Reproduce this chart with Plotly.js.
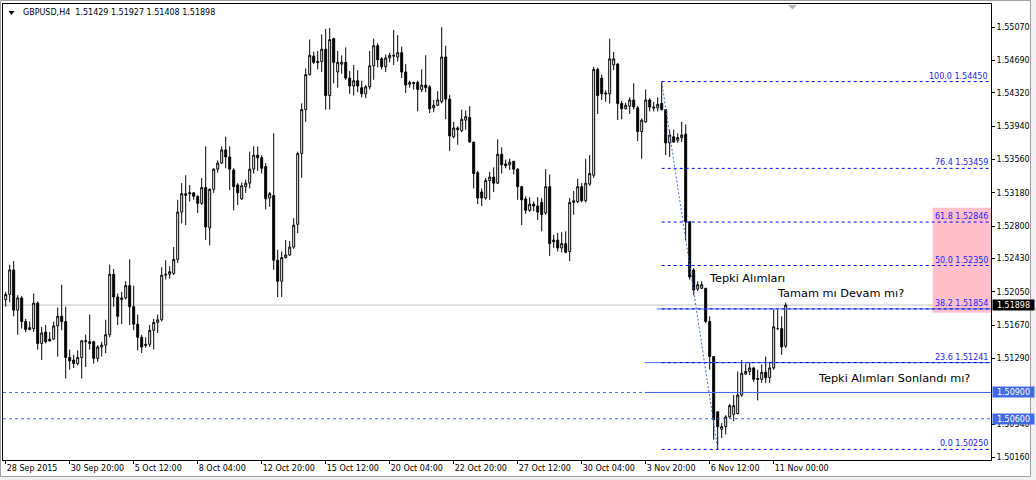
<!DOCTYPE html>
<html>
<head>
<meta charset="utf-8">
<script src="https://cdn.plot.ly/plotly-3.0.1.min.js"></script>
<style>
  html, body { margin: 0; padding: 0; background: #ffffff; }
  #chart { width: 1036px; height: 480px; }
</style>
</head>
<body>
<div id="chart"></div>
<script>
// ---------------- DATA ----------------
const symbolTitle = "GBPUSD,H4  1.51429 1.51927 1.51408 1.51898";

const openP = [
1.5196,1.5202,1.5230,1.5184,1.5198,1.5171,1.5162,1.5163,1.5192,1.5146,
1.5159,1.5151,1.5151,1.5166,1.5177,1.5171,1.5130,1.5127,1.5123,1.5130,
1.5148,1.5148,1.5148,1.5129,1.5142,1.5144,1.5156,1.5225,1.5199,1.5196,
1.5198,1.5212,1.5188,1.5168,1.5153,1.5145,1.5145,1.5161,1.5170,1.5173,
1.5224,1.5225,1.5226,1.5242,1.5296,1.5315,1.5317,1.5318,1.5314,1.5306,
1.5324,1.5278,1.5322,1.5345,1.5352,1.5367,1.5359,1.5344,1.5327,1.5311,
1.5325,1.5329,1.5345,1.5361,1.5358,1.5348,1.5312,1.5315,1.5241,1.5217,
1.5244,1.5247,1.5256,1.5282,1.5363,1.5413,1.5453,1.5474,1.5468,1.5468,
1.5482,1.5429,1.5494,1.5456,1.5465,1.5467,1.5449,1.5440,1.5446,1.5438,
1.5431,1.5439,1.5463,1.5486,1.5471,1.5462,1.5472,1.5474,1.5473,1.5478,
1.5456,1.5442,1.5444,1.5444,1.5436,1.5441,1.5439,1.5415,1.5418,1.5422,
1.5473,1.5425,1.5382,1.5390,1.5389,1.5401,1.5404,1.5376,1.5341,1.5319,
1.5312,1.5332,1.5336,1.5329,1.5362,1.5351,1.5350,1.5354,1.5345,1.5325,
1.5311,1.5298,1.5305,1.5303,1.5307,1.5295,1.5325,1.5264,1.5264,1.5255,
1.5260,1.5251,1.5307,1.5308,1.5325,1.5309,1.5328,1.5338,1.5459,1.5449,
1.5432,1.5431,1.5464,1.5465,1.5420,1.5414,1.5417,1.5424,1.5415,1.5388,
1.5399,1.5424,1.5416,1.5415,1.5420,1.5413,1.5375,1.5382,1.5378,1.5381,
1.5385,1.5285,1.5230,1.5208,1.5209,1.5209,1.5171,1.5131,1.5068,1.5048,
1.5051,1.5062,1.5065,1.5066,1.5087,1.5111,1.5114,1.5118,1.5106,1.5105,
1.5113,1.5107,1.5118,1.5163,1.5163,1.51429
];
const highP = [
1.5205,1.5236,1.5240,1.5201,1.5200,1.5174,1.5171,1.5203,1.5194,1.5165,
1.5167,1.5159,1.5171,1.5187,1.5213,1.5188,1.5139,1.5133,1.5138,1.5150,
1.5156,1.5179,1.5149,1.5144,1.5148,1.5173,1.5236,1.5231,1.5203,1.5205,
1.5217,1.5242,1.5212,1.5179,1.5156,1.5153,1.5167,1.5174,1.5179,1.5233,
1.5241,1.5234,1.5256,1.5310,1.5329,1.5338,1.5327,1.5318,1.5315,1.5335,
1.5371,1.5323,1.5346,1.5355,1.5371,1.5382,1.5371,1.5346,1.5329,1.5330,
1.5333,1.5365,1.5371,1.5371,1.5361,1.5352,1.5319,1.5386,1.5253,1.5251,
1.5264,1.5263,1.5289,1.5365,1.5420,1.5460,1.5493,1.5479,1.5480,1.5499,
1.5505,1.5506,1.5495,1.5480,1.5475,1.5484,1.5457,1.5464,1.5458,1.5446,
1.5441,1.5480,1.5494,1.5489,1.5473,1.5476,1.5478,1.5504,1.5498,1.5485,
1.5465,1.5446,1.5445,1.5446,1.5459,1.5475,1.5441,1.5424,1.5434,1.5507,
1.5486,1.5430,1.5399,1.5394,1.5413,1.5412,1.5417,1.5376,1.5343,1.5323,
1.5335,1.5342,1.5347,1.5379,1.5370,1.5356,1.5357,1.5354,1.5346,1.5326,
1.5314,1.5313,1.5308,1.5313,1.5312,1.5345,1.5339,1.5270,1.5272,1.5273,
1.5274,1.5312,1.5320,1.5334,1.5329,1.5357,1.5361,1.5462,1.5461,1.5453,
1.5435,1.5494,1.5479,1.5466,1.5423,1.5421,1.5427,1.5443,1.5417,1.5403,
1.5436,1.5426,1.5422,1.5427,1.5445,1.5413,1.5390,1.5390,1.5386,1.5399,
1.5396,1.5285,1.5232,1.5217,1.5217,1.5209,1.5177,1.5131,1.5068,1.5055,
1.5064,1.5077,1.5087,1.5114,1.5127,1.5123,1.5124,1.5119,1.5116,1.5122,
1.5131,1.5125,1.5185,1.5184,1.5177,1.51927
];
const lowP = [
1.5188,1.5193,1.5177,1.5156,1.5163,1.5159,1.5161,1.5159,1.5139,1.5127,
1.5146,1.5148,1.5150,1.5131,1.5161,1.5106,1.5116,1.5118,1.5121,1.5106,
1.5119,1.5139,1.5123,1.5125,1.5131,1.5135,1.5153,1.5188,1.5167,1.5168,
1.5196,1.5167,1.5161,1.5138,1.5135,1.5141,1.5142,1.5139,1.5158,1.5171,
1.5219,1.5220,1.5224,1.5238,1.5283,1.5281,1.5308,1.5310,1.5295,1.5304,
1.5264,1.5258,1.5318,1.5341,1.5351,1.5346,1.5321,1.5298,1.5304,1.5310,
1.5318,1.5323,1.5340,1.5343,1.5340,1.5299,1.5302,1.5230,1.5199,1.5199,
1.5243,1.5246,1.5254,1.5272,1.5335,1.5399,1.5452,1.5465,1.5459,1.5456,
1.5413,1.5413,1.5443,1.5438,1.5454,1.5447,1.5431,1.5429,1.5433,1.5427,
1.5426,1.5436,1.5447,1.5461,1.5459,1.5456,1.5467,1.5464,1.5468,1.5449,
1.5432,1.5438,1.5436,1.5411,1.5433,1.5433,1.5409,1.5410,1.5417,1.5420,
1.5402,1.5366,1.5380,1.5373,1.5387,1.5390,1.5375,1.5323,1.5305,1.5303,
1.5310,1.5310,1.5319,1.5328,1.5340,1.5346,1.5344,1.5339,1.5310,1.5281,
1.5294,1.5296,1.5297,1.5287,1.5274,1.5293,1.5246,1.5255,1.5251,1.5250,
1.5249,1.5240,1.5293,1.5306,1.5307,1.5307,1.5326,1.5335,1.5408,1.5424,
1.5422,1.5420,1.5458,1.5401,1.5402,1.5413,1.5408,1.5413,1.5377,1.5357,
1.5398,1.5411,1.5411,1.5411,1.5412,1.5361,1.5359,1.5375,1.5375,1.5376,
1.5264,1.5219,1.5201,1.5206,1.5208,1.5169,1.5116,1.5036,1.5025,1.5038,
1.5042,1.5061,1.5057,1.5065,1.5085,1.5110,1.5110,1.5102,1.5081,1.5101,
1.5101,1.5101,1.5116,1.5161,1.5133,1.51408
];
const closeP = [
1.5202,1.5230,1.5184,1.5198,1.5171,1.5162,1.5164,1.5192,1.5146,1.5158,
1.5148,1.5149,1.5166,1.5177,1.5171,1.5130,1.5126,1.5123,1.5130,1.5149,
1.5149,1.5146,1.5129,1.5142,1.5144,1.5156,1.5225,1.5199,1.5177,1.5198,
1.5212,1.5188,1.5168,1.5153,1.5142,1.5144,1.5161,1.5170,1.5173,1.5224,
1.5225,1.5228,1.5242,1.5296,1.5317,1.5317,1.5318,1.5314,1.5306,1.5324,
1.5279,1.5322,1.5345,1.5352,1.5367,1.5359,1.5345,1.5325,1.5318,1.5326,
1.5329,1.5345,1.5361,1.5358,1.5346,1.5311,1.5317,1.5241,1.5217,1.5244,
1.5247,1.5256,1.5281,1.5363,1.5413,1.5453,1.5475,1.5467,1.5467,1.5482,
1.5429,1.5493,1.5467,1.5467,1.5467,1.5449,1.5440,1.5446,1.5440,1.5431,
1.5439,1.5463,1.5486,1.5470,1.5462,1.5472,1.5475,1.5475,1.5478,1.5456,
1.5441,1.5444,1.5443,1.5436,1.5441,1.5438,1.5414,1.5418,1.5424,1.5473,
1.5425,1.5383,1.5392,1.5392,1.5402,1.5405,1.5376,1.5340,1.5312,1.5312,
1.5332,1.5336,1.5329,1.5362,1.5350,1.5349,1.5353,1.5345,1.5325,1.5310,
1.5298,1.5305,1.5303,1.5296,1.5293,1.5325,1.5260,1.5262,1.5255,1.5260,
1.5250,1.5307,1.5309,1.5325,1.5309,1.5329,1.5340,1.5459,1.5429,1.5431,
1.5431,1.5471,1.5471,1.5420,1.5414,1.5418,1.5424,1.5416,1.5388,1.5401,
1.5424,1.5416,1.5415,1.5419,1.5413,1.5375,1.5384,1.5376,1.5381,1.5384,
1.5285,1.5222,1.5207,1.5213,1.5213,1.5171,1.5131,1.5059,1.5051,1.5051,
1.5062,1.5075,1.5075,1.5087,1.5112,1.5114,1.5118,1.5105,1.5105,1.5113,
1.5107,1.5118,1.5165,1.5163,1.5142,1.51898
];

// x-axis tick labels (every 16 bars)
const xTickLabels = ["28 Sep 2015","30 Sep 20:00","5 Oct 12:00","8 Oct 04:00","12 Oct 20:00",
  "15 Oct 12:00","20 Oct 04:00","22 Oct 20:00","27 Oct 12:00","30 Oct 04:00",
  "3 Nov 20:00","6 Nov 12:00","11 Nov 00:00"];
const barsPerTick = 16;

// price axis labels
const yTickValues = [1.55070,1.54690,1.54320,1.53940,1.53560,1.53180,1.52800,1.52430,
  1.52050,1.51670,1.51290,1.50540,1.50160];

// Fibonacci retracement
const fibPercent = [100.0, 76.4, 61.8, 50.0, 38.2, 23.6, 0.0];
const fibPrice   = [1.54450, 1.53459, 1.52846, 1.52350, 1.51854, 1.51241, 1.50250];
const fibStartBar = 164, fibEndBar = 178;

// horizontal lines and labels
const hLinePrices = [1.50900, 1.50600];
const lastPrice = 1.51898;
const zoneLow = 1.5181, zoneHigh = 1.5301;

const noteTexts = ["Tepki Alımları", "Tamam mı Devam mı?", "Tepki Alımları Sonlandı mı?"];
const noteBars  = [175.3, 192.2, 202.6];
const notePrices = [1.52196, 1.52033, 1.51062];

// ---------------- LAYOUT ----------------
const W = 1036, H = 480;
const M = {l: 3, r: 45, t: 4, b: 20};
const PW = W - M.l - M.r, PH = H - M.t - M.b;
const xRange = [-0.675, 246.325];
const yRange = [1.50129, 1.55336];
const px = v => (v - M.l) / PW;          // pixel -> paper x
const py = v => (H - M.b - v) / PH;      // pixel -> paper y

const n = openP.length;
const idx = Array.from({length: n}, (_, i) => i);
const tickVals = xTickLabels.map((_, i) => i * barsPerTick);

const FONT = "DejaVu Sans, Verdana, sans-serif";
const ROYAL = "#4169e1";

const shapes = [];
// pink zone
shapes.push({type: 'rect', xref: 'x', yref: 'y', x0: 231.75, x1: xRange[1], y0: zoneLow, y1: zoneHigh,
  fillcolor: '#ffc0cb', line: {width: 0}, layer: 'below'});
// last price line
shapes.push({type: 'line', xref: 'paper', yref: 'y', x0: 0, x1: 1, y0: lastPrice, y1: lastPrice,
  line: {color: '#c0c0c0', width: 1}, layer: 'below'});
// dashed horizontal lines
hLinePrices.forEach(p => shapes.push({type: 'line', xref: 'paper', yref: 'y', x0: 0, x1: 1, y0: p, y1: p,
  line: {color: ROYAL, width: 1, dash: '3px,3px'}}));
// solid trend lines
shapes.push({type: 'line', xref: 'x', yref: 'y', x0: 159.8, x1: xRange[1], y0: hLinePrices[0], y1: hLinePrices[0], line: {color: ROYAL, width: 1}});
shapes.push({type: 'line', xref: 'x', yref: 'y', x0: 159.8, x1: xRange[1], y0: fibPrice[5], y1: fibPrice[5], line: {color: ROYAL, width: 1}});
shapes.push({type: 'line', xref: 'x', yref: 'y', x0: 162.75, x1: xRange[1], y0: fibPrice[4], y1: fibPrice[4], line: {color: ROYAL, width: 1}});
// fib levels
fibPrice.forEach(p => shapes.push({type: 'line', xref: 'x', yref: 'y', x0: fibStartBar, x1: xRange[1], y0: p, y1: p,
  line: {color: '#0000ff', width: 1, dash: '3px,3px'}}));
// fib trend line
shapes.push({type: 'line', xref: 'x', yref: 'y', x0: fibStartBar, x1: fibEndBar, y0: fibPrice[0], y1: fibPrice[6],
  line: {color: ROYAL, width: 1, dash: '2px,2px'}});
// title triangle
shapes.push({type: 'path', xref: 'paper', yref: 'paper',
  path: `M ${px(8.5)} ${py(11)} L ${px(14.5)} ${py(11)} L ${px(11.5)} ${py(15)} Z`,
  fillcolor: '#000', line: {width: 0}});
// chart-shift marker
shapes.push({type: 'path', xref: 'paper', yref: 'paper',
  path: `M ${px(788)} ${py(5)} L ${px(797)} ${py(5)} L ${px(792.5)} ${py(9.5)} Z`,
  fillcolor: '#b4b4b4', line: {width: 0}});
// window border / outside area
shapes.push({type: 'rect', xref: 'paper', yref: 'paper', x0: px(1030.5), x1: px(1037), y0: py(-1), y1: py(481),
  fillcolor: '#f0f0f0', line: {width: 0}});
shapes.push({type: 'rect', xref: 'paper', yref: 'paper', x0: px(-1), x1: px(1037), y0: py(476.5), y1: py(481),
  fillcolor: '#f0f0f0', line: {width: 0}});
shapes.push({type: 'rect', xref: 'paper', yref: 'paper', x0: px(0.5), x1: px(1030.5), y0: py(0.5), y1: py(476.5),
  line: {color: '#a0a0a0', width: 1}});

const annotations = [];
annotations.push({xref: 'paper', yref: 'paper', x: px(20.5), y: py(12.7), xanchor: 'left', yanchor: 'middle',
  text: symbolTitle.replace(/  /g, '&nbsp; '), showarrow: false, font: {family: FONT, size: 8, color: '#000'}});
fibPercent.forEach((pc, i) => annotations.push({xref: 'paper', yref: 'y', x: 1, y: fibPrice[i],
  xanchor: 'right', yanchor: 'bottom', xshift: -2, yshift: 0, borderpad: 0,
  text: pc.toFixed(1) + ' ' + fibPrice[i].toFixed(5), showarrow: false,
  font: {family: FONT, size: 8, color: '#2222ff'}}));
noteTexts.forEach((t, i) => annotations.push({xref: 'x', yref: 'y', x: noteBars[i], y: notePrices[i],
  xanchor: 'left', yanchor: 'middle', text: t, showarrow: false,
  font: {family: FONT, size: 11.3, color: '#000'}}));
// price labels on axis
const axisLabel = (p, bg) => ({xref: 'paper', yref: 'y', x: 1, y: p, xanchor: 'left', yanchor: 'middle',
  xshift: 1, width: 41, height: 10, borderpad: 0, bgcolor: bg, align: 'center',
  text: p.toFixed(5), showarrow: false, font: {family: FONT, size: 8, color: '#fff'}});
annotations.push(axisLabel(lastPrice, '#000'));
hLinePrices.forEach(p => annotations.push(axisLabel(p, ROYAL)));

const trace = {
  type: 'candlestick', x: idx, open: openP, high: highP, low: lowP, close: closeP,
  increasing: {line: {color: '#000', width: 1}, fillcolor: '#ffffff'},
  decreasing: {line: {color: '#000', width: 1}, fillcolor: '#000000'},
  whiskerwidth: 0, hoverinfo: 'skip', showlegend: false
};

const layout = {
  width: W, height: H,
  margin: M,
  paper_bgcolor: '#ffffff', plot_bgcolor: '#ffffff',
  showlegend: false,
  font: {family: FONT, size: 8, color: '#000'},
  xaxis: {
    type: 'linear', range: xRange, fixedrange: true,
    rangeslider: {visible: false},
    tickmode: 'array', tickvals: tickVals, ticktext: xTickLabels,
    ticks: 'outside', ticklen: 3, tickcolor: '#000', tickwidth: 1,
    ticklabelposition: 'outside right',
    showgrid: false, zeroline: false,
    showline: true, linecolor: '#000', linewidth: 1, mirror: true,
    tickfont: {family: FONT, size: 8, color: '#000'}
  },
  yaxis: {
    range: yRange, side: 'right', fixedrange: true,
    tickmode: 'array', tickvals: yTickValues, ticktext: yTickValues.map(v => v.toFixed(5)),
    ticks: 'outside', ticklen: 3, tickcolor: '#000', tickwidth: 1,
    showgrid: false, zeroline: false,
    showline: true, linecolor: '#000', linewidth: 1, mirror: true,
    tickfont: {family: FONT, size: 8, color: '#000'}
  },
  shapes: shapes,
  annotations: annotations
};

Plotly.newPlot('chart', [trace], layout, {staticPlot: true, displayModeBar: false});
</script>
</body>
</html>
